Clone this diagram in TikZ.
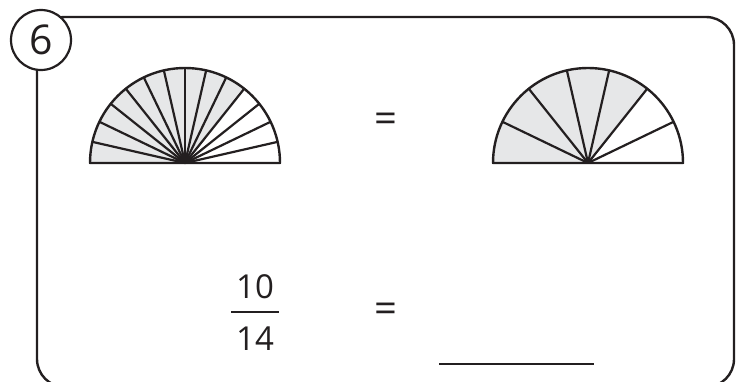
\documentclass[tikz,border=0pt]{standalone}
\usepackage{fontspec}
\setmainfont{Open Sans}
\definecolor{piegray}{HTML}{E6E7E8}
\definecolor{ink}{HTML}{231F20}
\tikzset{
  frame/.style={draw=ink, line width=2.4pt, rounded corners=28pt},
  pie/.style={draw=ink, line width=2.4pt, line join=round},
  spoke/.style={draw=ink, line width=2.2pt},
  numcircle/.style={circle, draw=ink, fill=white, line width=2.2pt, minimum size=60pt, inner sep=0pt, font=\fontsize{41}{41}\selectfont, text=ink},
  bigtext/.style={font=\fontsize{33}{33}\selectfont, text=ink, inner sep=0pt},
  eqtext/.style={font=\fontsize{40}{40}\selectfont, text=ink, inner sep=0pt},
}
\begin{document}
\begin{tikzpicture}[x=1pt,y=1pt]
\useasboundingbox (0,0) rectangle (743,381);
\begin{scope}
\clip (0,0) rectangle (743,381);
\draw[frame] (37,-6) rectangle (734,364);
\end{scope}
\node[numcircle] (num) at (41,341) {6};

% left semicircle: 14 parts, 10 shaded
\coordinate (cl) at (185,218);
\fill[piegray] (cl) -- ++(180:95) arc (180:{180-10*180/14}:95) -- cycle;
\foreach \i in {1,...,13} {
  \draw[spoke] (cl) -- ++({180-\i*180/14}:95);
}
\draw[pie] (cl) ++(-95,0) arc (180:0:95) -- cycle;

% right semicircle: 7 parts, 5 shaded
\coordinate (cr) at (588,218);
\fill[piegray] (cr) -- ++(180:95) arc (180:{180-5*180/7}:95) -- cycle;
\foreach \i in {1,...,6} {
  \draw[spoke] (cr) -- ++({180-\i*180/7}:95);
}
\draw[pie] (cr) ++(-95,0) arc (180:0:95) -- cycle;

\node[eqtext] (eqa) at (386,258) {=};
\node[eqtext] (eqb) at (386,68) {=};

\node[bigtext] (numer) at (255,94) {10};
\node[bigtext] (denom) at (255,42) {14};
\coordinate (barl) at (231,69);
\coordinate (barr) at (279,69);
\draw[ink, line width=2.2pt] (barl) -- (barr);

\coordinate (ansl) at (439,17);
\coordinate (ansr) at (594,17);
\draw[ink, line width=2.2pt] (ansl) -- (ansr);
\end{tikzpicture}
\end{document}
